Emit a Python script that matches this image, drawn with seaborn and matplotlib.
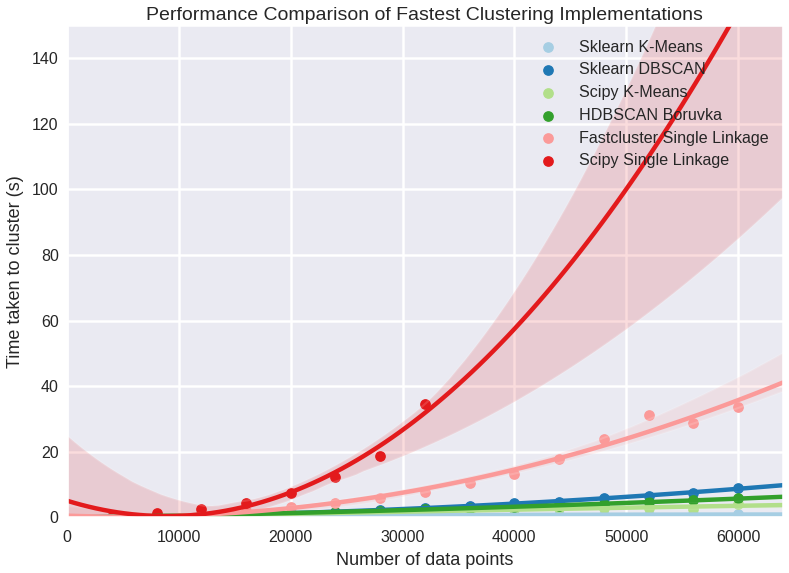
import numpy as np
import pandas as pd
import matplotlib
matplotlib.use('Agg')
import matplotlib.pyplot as plt
import seaborn as sns

# ------------------------------------------------------------
# data (seconds per run)
# ------------------------------------------------------------
sizes = [4000, 8000, 12000, 16000, 20000, 24000, 28000, 32000,
         36000, 40000, 44000, 48000, 52000, 56000, 60000]

sklearn_kmeans = [0.2, 0.3, 0.4, 0.5, 0.5, 0.6, 0.6, 0.7,
                  0.7, 0.8, 0.8, 0.8, 0.8, 0.9, 0.9]
sklearn_dbscan = [0.1, 0.3, 0.6, 0.9, 1.3, 1.8, 2.3, 3.0,
                  3.5, 4.3, 4.8, 5.8, 6.6, 7.5, 9.0]
scipy_kmeans = [0.1, 0.3, 0.5, 0.8, 1.0, 1.3, 1.6, 1.9,
                2.2, 2.5, 2.8, 2.9, 2.9, 2.7, 4.0]
hdbscan_boruvka = [0.2, 0.4, 0.7, 1.0, 1.4, 1.7, 2.1, 2.5,
                   2.9, 3.2, 3.6, 4.0, 4.6, 5.3, 5.8]
fastcluster_single = [0.2, 0.5, 1.1, 1.9, 3.1, 4.4, 6.0, 7.7,
                      10.5, 13.2, 17.8, 23.9, 31.3, 28.8, 33.7]

scipy_single_sizes = [4000, 8000, 12000, 16000, 20000, 24000, 28000, 32000]
scipy_single = [0.2, 1.3, 2.6, 4.5, 7.5, 12.4, 18.7, 34.6]

series = [
    ('Sklearn K-Means', sizes, sklearn_kmeans),
    ('Sklearn DBSCAN', sizes, sklearn_dbscan),
    ('Scipy K-Means', sizes, scipy_kmeans),
    ('HDBSCAN Boruvka', sizes, hdbscan_boruvka),
    ('Fastcluster Single Linkage', sizes, fastcluster_single),
    ('Scipy Single Linkage', scipy_single_sizes, scipy_single),
]

# ------------------------------------------------------------
# plot
# ------------------------------------------------------------
sns.set_theme(style='darkgrid', context='talk')
plt.rcParams['font.family'] = ['Liberation Sans', 'DejaVu Sans']
plt.rcParams['grid.linewidth'] = 1.8

palette = sns.color_palette('Paired', 6)

fig, ax = plt.subplots(figsize=(7.89, 5.73), dpi=100)
fig.subplots_adjust(left=0.085, right=0.992, top=0.956, bottom=0.097)

# limits first so the fits (truncate=False) span the whole axis
ax.set_xlim(0, 64000)
ax.set_ylim(0, 150)

for (name, xs, ys), col in zip(series, palette):
    df = pd.DataFrame({'x': xs, 'y': ys})
    sns.regplot(data=df, x='x', y='y', order=2, color=col, ax=ax,
                label=name, truncate=False, seed=0,
                scatter_kws={'s': 45, 'alpha': 1},
                line_kws={'lw': 3.2})

ax.set_xlim(0, 64000)
ax.set_ylim(0, 150)
ax.set_xticks([0, 10000, 20000, 30000, 40000, 50000, 60000])
ax.set_yticks(range(0, 141, 20))
ax.tick_params(labelsize=11.5, length=0)
ax.tick_params(axis='x', pad=9)
ax.tick_params(axis='y', pad=6)
ax.set_xlabel('Number of data points', fontsize=13, labelpad=5)
ax.set_ylabel('Time taken to cluster (s)', fontsize=13, labelpad=6)
ax.set_title('Performance Comparison of Fastest Clustering Implementations',
             fontsize=14, pad=4)

leg = ax.legend(loc='upper right', frameon=False, fontsize=11.6,
                handletextpad=0.9, borderaxespad=0.5, labelspacing=0.48)

fig.savefig('out.png', dpi=100)
